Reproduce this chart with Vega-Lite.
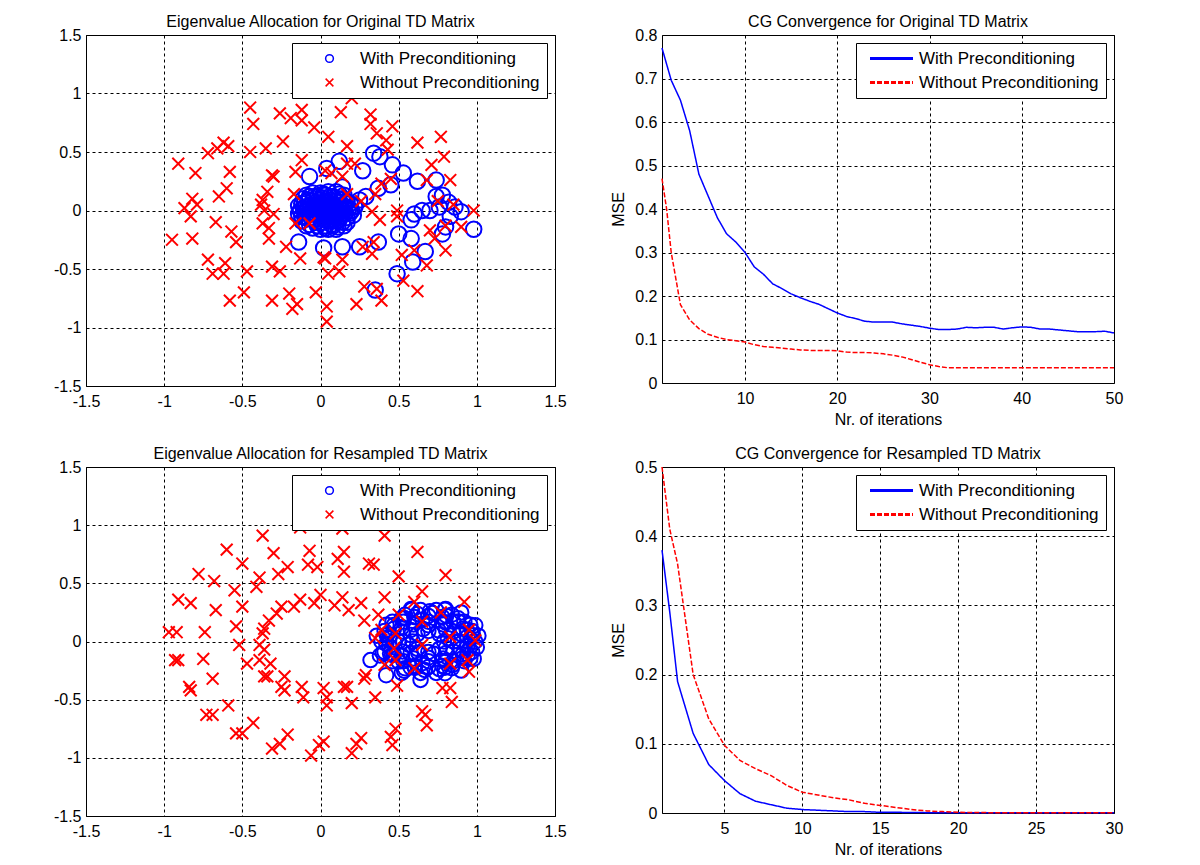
{
  "$schema": "https://vega.github.io/schema/vega-lite/v6.json",
  "background": "white",
  "padding": {"left": 52, "top": 13, "right": 5, "bottom": 5},
  "datasets": {
    "tlWith": [
      {"re":0.03,"im":0.0},{"re":0.05,"im":0.02},{"re":0.0,"im":-0.02},{"re":0.08,"im":0.0},{"re":-0.03,"im":0.01},{"re":0.02,"im":0.05},{"re":0.04,"im":-0.05},{"re":0.1,"im":0.03},{"re":0.11,"im":-0.03},{"re":-0.06,"im":-0.02},{"re":-0.08,"im":0.03},{"re":-0.1,"im":-0.01},{"re":-0.11,"im":0.02},{"re":0.14,"im":0.0},{"re":0.15,"im":0.04},{"re":0.13,"im":-0.05},{"re":0.06,"im":0.09},{"re":0.0,"im":0.09},{"re":-0.05,"im":0.08},{"re":0.09,"im":0.08},{"re":0.12,"im":0.07},{"re":0.07,"im":-0.09},{"re":0.01,"im":-0.1},{"re":-0.04,"im":-0.08},{"re":0.1,"im":-0.09},{"re":-0.08,"im":-0.07},{"re":0.03,"im":0.13},{"re":-0.02,"im":0.12},{"re":0.08,"im":0.12},{"re":0.03,"im":-0.13},{"re":0.08,"im":-0.13},{"re":-0.02,"im":-0.13},{"re":0.16,"im":-0.02},{"re":-0.12,"im":-0.05},{"re":-0.12,"im":0.06},{"re":0.14,"im":0.1},{"re":0.14,"im":-0.1},{"re":0.0,"im":0.15},{"re":0.05,"im":0.16},{"re":0.05,"im":-0.16},{"re":-0.07,"im":0.12},{"re":-0.07,"im":-0.12},{"re":0.12,"im":0.14},{"re":0.11,"im":-0.14},{"re":0.02,"im":0.02},{"re":0.06,"im":-0.02},{"re":-0.01,"im":0.04},{"re":0.04,"im":0.04},{"re":0.07,"im":0.05},{"re":0.01,"im":-0.06},{"re":-0.02,"im":-0.04},{"re":0.09,"im":-0.05},{"re":0.12,"im":0.02},{"re":-0.09,"im":0.0},{"re":0.05,"im":0.0},{"re":0.18,"im":0.02},{"re":0.17,"im":-0.06},{"re":0.19,"im":0.06},
      {"re":-0.13,"im":0.0},{"re":-0.12,"im":-0.09},{"re":-0.11,"im":0.1},{"re":-0.09,"im":0.13},{"re":-0.09,"im":-0.13},{"re":-0.05,"im":0.15},{"re":-0.05,"im":-0.15},{"re":0.0,"im":-0.16},{"re":0.1,"im":0.16},{"re":0.1,"im":-0.16},{"re":0.15,"im":0.13},{"re":0.15,"im":-0.13},{"re":0.17,"im":0.08},{"re":0.17,"im":-0.1},{"re":0.19,"im":-0.02},{"re":-0.14,"im":0.04},{"re":-0.14,"im":-0.03},{"re":-0.1,"im":0.07},{"re":-0.1,"im":-0.06},{"re":-0.06,"im":0.05},{"re":-0.06,"im":-0.06},{"re":-0.03,"im":0.07},{"re":-0.03,"im":-0.1},{"re":0.01,"im":0.11},{"re":0.02,"im":-0.08},{"re":0.04,"im":0.08},{"re":0.06,"im":0.12},{"re":0.07,"im":-0.12},{"re":0.09,"im":0.05},{"re":0.09,"im":-0.02},{"re":0.11,"im":0.1},{"re":0.12,"im":-0.08},{"re":0.13,"im":0.04},{"re":0.14,"im":-0.03},{"re":0.0,"im":0.0},{"re":0.04,"im":-0.02},{"re":-0.02,"im":0.02},{"re":0.06,"im":0.04},{"re":0.08,"im":-0.07},{"re":-0.08,"im":0.09},{"re":-0.04,"im":0.12},{"re":0.02,"im":0.14},{"re":0.03,"im":-0.15},{"re":-0.1,"im":0.03},{"re":0.16,"im":0.06},{"re":0.2,"im":0.0},{"re":0.21,"im":-0.04},{"re":0.22,"im":0.04},
      {"re":-0.14,"im":-0.27},{"re":0.02,"im":-0.32},{"re":0.14,"im":-0.31},{"re":0.25,"im":-0.31},{"re":0.37,"im":-0.27},{"re":0.35,"im":-0.68},{"re":0.49,"im":-0.54},{"re":0.59,"im":-0.44},{"re":0.67,"im":-0.35},{"re":0.5,"im":-0.2},{"re":0.58,"im":-0.24},{"re":0.58,"im":-0.08},{"re":0.6,"im":-0.03},{"re":0.65,"im":0.0},{"re":0.7,"im":0.0},{"re":0.76,"im":0.03},{"re":0.74,"im":0.12},{"re":0.78,"im":0.13},{"re":0.82,"im":0.07},{"re":0.86,"im":0.03},{"re":0.9,"im":-0.01},{"re":0.83,"im":-0.05},{"re":0.8,"im":-0.14},{"re":0.78,"im":-0.2},{"re":0.98,"im":-0.16},{"re":0.74,"im":0.26},{"re":0.62,"im":0.25},{"re":0.53,"im":0.32},{"re":0.46,"im":0.39},{"re":0.38,"im":0.46},{"re":0.34,"im":0.49},{"re":0.45,"im":0.22},{"re":0.37,"im":0.19},{"re":0.27,"im":0.34},{"re":0.12,"im":0.42},{"re":0.04,"im":0.36},{"re":-0.07,"im":0.29},{"re":0.14,"im":0.2},{"re":0.25,"im":0.09},{"re":0.22,"im":0.03},{"re":0.29,"im":0.12}
    ],
    "tlWithout": [
      {"re":-0.45,"im":0.88},{"re":-0.43,"im":0.74},{"re":-0.26,"im":0.83},{"re":-0.19,"im":0.79},{"re":-0.12,"im":0.86},{"re":-0.12,"im":0.77},{"re":-0.04,"im":0.71},{"re":0.13,"im":0.84},{"re":0.2,"im":0.96},{"re":0.32,"im":0.82},{"re":0.32,"im":0.74},{"re":0.46,"im":0.72},{"re":0.36,"im":0.66},{"re":0.42,"im":0.6},{"re":0.05,"im":0.63},{"re":0.17,"im":0.55},{"re":-0.24,"im":0.59},{"re":-0.35,"im":0.53},{"re":-0.45,"im":0.5},{"re":-0.62,"im":0.58},{"re":-0.59,"im":0.55},{"re":-0.66,"im":0.53},{"re":-0.72,"im":0.49},{"re":-0.91,"im":0.4},{"re":-0.8,"im":0.32},{"re":-0.58,"im":0.33},{"re":-0.6,"im":0.19},{"re":-0.65,"im":0.12},{"re":-0.82,"im":0.1},{"re":-0.79,"im":0.05},{"re":-0.87,"im":0.02},{"re":-0.83,"im":-0.05},{"re":-0.95,"im":-0.25},{"re":-0.82,"im":-0.24},{"re":-0.67,"im":-0.1},{"re":-0.57,"im":-0.18},{"re":-0.54,"im":-0.27},{"re":-0.72,"im":-0.42},{"re":-0.69,"im":-0.54},{"re":-0.61,"im":-0.45},{"re":-0.62,"im":-0.54},{"re":-0.58,"im":-0.77},{"re":-0.49,"im":-0.7},{"re":-0.47,"im":-0.52},{"re":-0.31,"im":-0.77},{"re":-0.31,"im":-0.48},{"re":-0.26,"im":-0.52},{"re":-0.2,"im":-0.71},{"re":-0.18,"im":-0.84},{"re":-0.15,"im":-0.8},{"re":-0.03,"im":-0.7},{"re":0.04,"im":-0.82},{"re":0.04,"im":-0.95},{"re":0.23,"im":-0.8},{"re":0.28,"im":-0.65},{"re":0.39,"im":-0.77},{"re":0.36,"im":-0.67},{"re":0.53,"im":-0.6},{"re":0.62,"im":-0.69},{"re":0.6,"im":-0.34},{"re":0.68,"im":-0.47},{"re":0.8,"im":-0.34},{"re":0.7,"im":-0.17},{"re":0.9,"im":-0.14},{"re":0.98,"im":0.0},{"re":0.62,"im":0.58},{"re":0.77,"im":0.63},{"re":0.79,"im":0.46},{"re":0.71,"im":0.39},{"re":0.83,"im":0.26},{"re":0.68,"im":0.26},{"re":0.8,"im":-0.13},{"re":0.49,"im":0.0},{"re":0.49,"im":-0.05},{"re":0.45,"im":0.27},{"re":0.39,"im":0.23},{"re":0.35,"im":0.14},{"re":0.33,"im":-0.01},{"re":0.38,"im":-0.08},{"re":0.34,"im":-0.27},{"re":0.33,"im":-0.37},{"re":0.27,"im":-0.31},{"re":0.17,"im":0.14},{"re":0.14,"im":0.29},{"re":0.17,"im":0.4},{"re":0.22,"im":0.4},{"re":0.07,"im":0.32},{"re":0.03,"im":0.34},{"re":-0.12,"im":0.43},{"re":-0.16,"im":0.33},{"re":-0.17,"im":0.14},{"re":-0.07,"im":-0.11},{"re":-0.16,"im":-0.11},{"re":-0.22,"im":-0.31},{"re":-0.13,"im":-0.41},{"re":0.02,"im":-0.4},{"re":0.03,"im":-0.41},{"re":0.05,"im":-0.54},{"re":0.12,"im":-0.52},{"re":0.14,"im":-0.42},{"re":-0.31,"im":0.3},{"re":-0.3,"im":0.29},{"re":-0.34,"im":0.16},{"re":-0.37,"im":0.09},{"re":-0.38,"im":0.05},{"re":-0.36,"im":0.0},{"re":-0.37,"im":-0.11},{"re":-0.33,"im":-0.15},{"re":-0.33,"im":-0.24},{"re":-0.3,"im":-0.03},{"re":0.75,"im":0.08},{"re":0.73,"im":-0.24},{"re":0.85,"im":0.05},{"re":0.52,"im":-0.38},{"re":0.26,"im":0.08},{"re":0.43,"im":0.52}
    ],
    "blWith": [
      {"re":0.99,"im":0.0},{"re":0.97,"im":0.09},{"re":0.92,"im":0.17},{"re":0.84,"im":0.23},{"re":0.74,"im":0.27},{"re":0.64,"im":0.27},{"re":0.54,"im":0.23},{"re":0.46,"im":0.17},{"re":0.41,"im":0.09},{"re":0.39,"im":0.0},{"re":0.41,"im":-0.09},{"re":0.46,"im":-0.17},{"re":0.54,"im":-0.23},{"re":0.64,"im":-0.27},{"re":0.74,"im":-0.27},{"re":0.84,"im":-0.23},{"re":0.92,"im":-0.17},{"re":0.97,"im":-0.09},
      {"re":0.94,"im":0.04},{"re":0.91,"im":0.11},{"re":0.85,"im":0.17},{"re":0.78,"im":0.21},{"re":0.69,"im":0.22},{"re":0.6,"im":0.21},{"re":0.53,"im":0.17},{"re":0.47,"im":0.11},{"re":0.44,"im":0.04},{"re":0.44,"im":-0.04},{"re":0.47,"im":-0.11},{"re":0.53,"im":-0.17},{"re":0.6,"im":-0.21},{"re":0.69,"im":-0.22},{"re":0.78,"im":-0.21},{"re":0.85,"im":-0.17},{"re":0.91,"im":-0.11},{"re":0.94,"im":-0.04},
      {"re":0.88,"im":0.0},{"re":0.85,"im":0.085},{"re":0.785,"im":0.147},{"re":0.69,"im":0.17},{"re":0.595,"im":0.147},{"re":0.525,"im":0.085},{"re":0.5,"im":0.0},{"re":0.525,"im":-0.085},{"re":0.595,"im":-0.147},{"re":0.69,"im":-0.17},{"re":0.785,"im":-0.147},{"re":0.85,"im":-0.085},
      {"re":0.815,"im":0.028},{"re":0.755,"im":0.095},{"re":0.656,"im":0.106},{"re":0.577,"im":0.055},{"re":0.564,"im":-0.028},{"re":0.625,"im":-0.095},{"re":0.724,"im":-0.106},{"re":0.803,"im":-0.055},
      {"re":0.976,"im":0.053},{"re":0.88,"im":0.2},{"re":0.7,"im":0.26},{"re":0.52,"im":0.2},{"re":0.424,"im":0.053},{"re":0.458,"im":-0.115},{"re":0.604,"im":-0.225},{"re":0.796,"im":-0.225},{"re":0.942,"im":-0.115},
      {"re":0.959,"im":0.021},{"re":0.935,"im":0.104},{"re":0.881,"im":0.173},{"re":0.804,"im":0.222},{"re":0.714,"im":0.244},{"re":0.62,"im":0.237},{"re":0.535,"im":0.201},{"re":0.469,"im":0.141},{"re":0.429,"im":0.063},{"re":0.421,"im":-0.021},{"re":0.445,"im":-0.104},{"re":0.499,"im":-0.173},{"re":0.576,"im":-0.222},{"re":0.666,"im":-0.244},{"re":0.76,"im":-0.237},{"re":0.845,"im":-0.201},{"re":0.911,"im":-0.141},{"re":0.951,"im":-0.063},
      {"re":0.897,"im":0.065},{"re":0.8,"im":0.165},{"re":0.652,"im":0.187},{"re":0.521,"im":0.122},{"re":0.47,"im":0.0},{"re":0.521,"im":-0.122},{"re":0.652,"im":-0.187},{"re":0.8,"im":-0.165},{"re":0.897,"im":-0.065},
      {"re":0.803,"im":0.099},{"re":0.577,"im":0.099},{"re":0.577,"im":-0.099},{"re":0.803,"im":-0.099},{"re":0.85,"im":0.0},{"re":0.53,"im":0.0},{"re":0.69,"im":0.14},{"re":0.69,"im":-0.14},
      {"re":0.79,"im":0.0},{"re":0.59,"im":0.0},{"re":0.69,"im":0.09},{"re":0.69,"im":-0.09},{"re":0.76,"im":0.064},{"re":0.62,"im":0.064},{"re":0.62,"im":-0.064},{"re":0.76,"im":-0.064},
      {"re":0.958,"im":0.145},{"re":0.796,"im":0.273},{"re":0.584,"im":0.273},{"re":0.422,"im":0.145},{"re":0.399,"im":-0.099},{"re":0.535,"im":-0.251},{"re":0.796,"im":-0.273},{"re":0.958,"im":-0.145},
      {"re":0.32,"im":-0.16},{"re":0.42,"im":-0.29},{"re":0.64,"im":-0.33},{"re":0.36,"im":0.05},{"re":0.38,"im":-0.12},{"re":1.01,"im":0.05},{"re":1.0,"im":-0.05},{"re":0.9,"im":0.25},{"re":0.8,"im":0.28},{"re":0.58,"im":0.28},{"re":0.9,"im":-0.25},{"re":0.52,"im":-0.27},{"re":0.99,"im":0.14},{"re":0.98,"im":-0.15}
    ],
    "blWithout": [
      {"re":-0.37,"im":0.91},{"re":-0.6,"im":0.79},{"re":-0.3,"im":0.76},{"re":-0.5,"im":0.67},{"re":-0.78,"im":0.58},{"re":-0.68,"im":0.52},{"re":-0.39,"im":0.55},{"re":-0.41,"im":0.47},{"re":-0.27,"im":0.58},{"re":-0.21,"im":0.64},{"re":-0.07,"im":0.78},{"re":-0.08,"im":0.66},{"re":-0.02,"im":0.64},{"re":-0.13,"im":0.98},{"re":0.11,"im":0.71},{"re":0.15,"im":0.77},{"re":0.15,"im":0.6},{"re":0.14,"im":0.97},{"re":0.31,"im":0.67},{"re":0.34,"im":0.66},{"re":0.41,"im":0.91},{"re":0.5,"im":0.56},{"re":0.62,"im":0.77},{"re":0.8,"im":0.57},{"re":0.92,"im":0.34},{"re":0.65,"im":0.43},{"re":0.6,"im":0.34},{"re":0.77,"im":0.25},{"re":0.65,"im":0.17},{"re":0.95,"im":0.1},{"re":0.99,"im":0.01},{"re":0.83,"im":0.04},{"re":0.65,"im":-0.03},{"re":0.83,"im":-0.19},{"re":0.94,"im":-0.16},{"re":0.95,"im":-0.26},{"re":0.78,"im":-0.4},{"re":0.83,"im":-0.4},{"re":0.84,"im":-0.52},{"re":0.65,"im":-0.6},{"re":0.67,"im":-0.63},{"re":0.68,"im":-0.72},{"re":0.48,"im":-0.75},{"re":0.45,"im":-0.82},{"re":0.46,"im":-0.89},{"re":0.49,"im":-0.38},{"re":0.6,"im":-0.23},{"re":0.41,"im":-0.2},{"re":0.48,"im":-0.16},{"re":0.47,"im":-0.06},{"re":0.48,"im":0.07},{"re":0.5,"im":0.23},{"re":0.39,"im":0.1},{"re":0.35,"im":0.03},{"re":0.41,"im":0.38},{"re":0.37,"im":0.23},{"re":0.28,"im":0.18},{"re":0.26,"im":0.33},{"re":0.18,"im":0.27},{"re":0.14,"im":0.38},{"re":0.09,"im":0.31},{"re":0.0,"im":0.4},{"re":-0.04,"im":0.33},{"re":-0.13,"im":0.36},{"re":-0.17,"im":0.3},{"re":-0.25,"im":0.3},{"re":-0.28,"im":0.24},{"re":-0.33,"im":0.18},{"re":-0.36,"im":0.11},{"re":-0.37,"im":0.07},{"re":-0.39,"im":-0.03},{"re":-0.36,"im":-0.07},{"re":-0.39,"im":-0.16},{"re":-0.32,"im":-0.19},{"re":-0.36,"im":-0.3},{"re":-0.34,"im":-0.3},{"re":-0.47,"im":-0.19},{"re":-0.52,"im":-0.03},{"re":-0.54,"im":0.13},{"re":-0.5,"im":0.3},{"re":-0.55,"im":0.44},{"re":-0.23,"im":-0.3},{"re":-0.25,"im":-0.39},{"re":-0.23,"im":-0.42},{"re":-0.12,"im":-0.39},{"re":-0.11,"im":-0.48},{"re":0.02,"im":-0.4},{"re":0.04,"im":-0.48},{"re":0.04,"im":-0.55},{"re":0.15,"im":-0.39},{"re":0.17,"im":-0.39},{"re":0.2,"im":-0.53},{"re":0.28,"im":-0.32},{"re":0.29,"im":-0.29},{"re":0.35,"im":-0.48},{"re":-0.59,"im":-0.55},{"re":-0.69,"im":-0.32},{"re":-0.75,"im":-0.15},{"re":-0.74,"im":0.08},{"re":-0.67,"im":0.27},{"re":-0.83,"im":0.33},{"re":-0.91,"im":0.36},{"re":-0.92,"im":0.08},{"re":-0.97,"im":0.08},{"re":-0.93,"im":-0.16},{"re":-0.91,"im":-0.16},{"re":-0.84,"im":-0.39},{"re":-0.83,"im":-0.42},{"re":-0.73,"im":-0.63},{"re":-0.69,"im":-0.63},{"re":-0.54,"im":-0.79},{"re":-0.5,"im":-0.79},{"re":-0.43,"im":-0.7},{"re":-0.31,"im":-0.92},{"re":-0.26,"im":-0.88},{"re":-0.21,"im":-0.8},{"re":-0.06,"im":-0.98},{"re":-0.01,"im":-0.89},{"re":0.02,"im":-0.86},{"re":0.2,"im":-0.96},{"re":0.23,"im":-0.88},{"re":0.26,"im":-0.83}
    ],
    "trWith": [
      {"iter":1,"mse":0.77},{"iter":2,"mse":0.696},{"iter":3,"mse":0.65},{"iter":4,"mse":0.58},{"iter":5,"mse":0.48},{"iter":6,"mse":0.43},{"iter":7,"mse":0.38},{"iter":8,"mse":0.343},{"iter":9,"mse":0.324},{"iter":10,"mse":0.3},{"iter":11,"mse":0.267},{"iter":12,"mse":0.25},{"iter":13,"mse":0.228},{"iter":14,"mse":0.217},{"iter":15,"mse":0.205},{"iter":16,"mse":0.196},{"iter":17,"mse":0.188},{"iter":18,"mse":0.181},{"iter":19,"mse":0.171},{"iter":20,"mse":0.161},{"iter":21,"mse":0.153},{"iter":22,"mse":0.148},{"iter":23,"mse":0.142},{"iter":24,"mse":0.14},{"iter":25,"mse":0.14},{"iter":26,"mse":0.14},{"iter":27,"mse":0.136},{"iter":28,"mse":0.133},{"iter":29,"mse":0.13},{"iter":30,"mse":0.126},{"iter":31,"mse":0.123},{"iter":32,"mse":0.123},{"iter":33,"mse":0.124},{"iter":34,"mse":0.128},{"iter":35,"mse":0.127},{"iter":36,"mse":0.128},{"iter":37,"mse":0.128},{"iter":38,"mse":0.124},{"iter":39,"mse":0.127},{"iter":40,"mse":0.129},{"iter":41,"mse":0.128},{"iter":42,"mse":0.124},{"iter":43,"mse":0.124},{"iter":44,"mse":0.122},{"iter":45,"mse":0.12},{"iter":46,"mse":0.118},{"iter":47,"mse":0.118},{"iter":48,"mse":0.118},{"iter":49,"mse":0.119},{"iter":50,"mse":0.115}
    ],
    "trWithout": [
      {"iter":1,"mse":0.47},{"iter":1.5,"mse":0.4},{"iter":2,"mse":0.3},{"iter":3,"mse":0.18},{"iter":4,"mse":0.145},{"iter":5,"mse":0.125},{"iter":6,"mse":0.112},{"iter":7,"mse":0.105},{"iter":8,"mse":0.1},{"iter":9,"mse":0.097},{"iter":10,"mse":0.094},{"iter":11,"mse":0.088},{"iter":12,"mse":0.084},{"iter":13,"mse":0.082},{"iter":14,"mse":0.08},{"iter":15,"mse":0.078},{"iter":16,"mse":0.076},{"iter":17,"mse":0.075},{"iter":18,"mse":0.075},{"iter":19,"mse":0.075},{"iter":20,"mse":0.074},{"iter":21,"mse":0.071},{"iter":22,"mse":0.07},{"iter":23,"mse":0.07},{"iter":24,"mse":0.069},{"iter":25,"mse":0.067},{"iter":26,"mse":0.064},{"iter":27,"mse":0.06},{"iter":28,"mse":0.054},{"iter":29,"mse":0.048},{"iter":30,"mse":0.042},{"iter":31,"mse":0.038},{"iter":32,"mse":0.035},{"iter":34,"mse":0.035},{"iter":36,"mse":0.035},{"iter":38,"mse":0.035},{"iter":40,"mse":0.035},{"iter":42,"mse":0.035},{"iter":44,"mse":0.035},{"iter":46,"mse":0.035},{"iter":48,"mse":0.035},{"iter":50,"mse":0.035}
    ],
    "brWith": [
      {"iter":1,"mse":0.38},{"iter":1.5,"mse":0.29},{"iter":2,"mse":0.19},{"iter":3,"mse":0.115},{"iter":4,"mse":0.07},{"iter":5,"mse":0.047},{"iter":6,"mse":0.028},{"iter":7,"mse":0.017},{"iter":8,"mse":0.012},{"iter":9,"mse":0.007},{"iter":10,"mse":0.005},{"iter":11,"mse":0.004},{"iter":12,"mse":0.003},{"iter":13,"mse":0.002},{"iter":14,"mse":0.002},{"iter":15,"mse":0.001},{"iter":16,"mse":0.001},{"iter":18,"mse":0.0005},{"iter":20,"mse":0.0005},{"iter":22,"mse":0.0005},{"iter":24,"mse":0.0005},{"iter":26,"mse":0.0005},{"iter":28,"mse":0.0005},{"iter":30,"mse":0.0005}
    ],
    "brWithout": [
      {"iter":1,"mse":0.5},{"iter":1.5,"mse":0.41},{"iter":2,"mse":0.36},{"iter":3,"mse":0.2},{"iter":4,"mse":0.136},{"iter":5,"mse":0.098},{"iter":6,"mse":0.076},{"iter":7,"mse":0.064},{"iter":8,"mse":0.054},{"iter":9,"mse":0.04},{"iter":10,"mse":0.03},{"iter":11,"mse":0.026},{"iter":12,"mse":0.022},{"iter":13,"mse":0.019},{"iter":14,"mse":0.014},{"iter":15,"mse":0.011},{"iter":16,"mse":0.008},{"iter":17,"mse":0.005},{"iter":18,"mse":0.003},{"iter":19,"mse":0.002},{"iter":20,"mse":0.001},{"iter":22,"mse":0.0005},{"iter":24,"mse":0.0005},{"iter":26,"mse":0.0005},{"iter":28,"mse":0.0005},{"iter":30,"mse":0.0005}
    ]
  },
  "concat": [
    {
      "title": "Eigenvalue Allocation for Original TD Matrix",
      "width": 469, "height": 351,
      "layer": [
        {
          "data": {"name": "tlWith"},
          "mark": {"type": "point", "filled": false, "size": 240, "strokeWidth": 2, "opacity": 1},
          "encoding": {
            "x": {"field": "re", "type": "quantitative", "scale": {"domain": [-1.5, 1.5], "nice": false}, "axis": {"values": [-1.5, -1, -0.5, 0, 0.5, 1, 1.5], "format": "~g", "title": null}},
            "y": {"field": "im", "type": "quantitative", "scale": {"domain": [-1.5, 1.5], "nice": false}, "axis": {"values": [-1.5, -1, -0.5, 0, 0.5, 1, 1.5], "format": "~g", "title": null}},
            "color": {"datum": "With Preconditioning", "type": "nominal", "scale": {"domain": ["With Preconditioning", "Without Preconditioning"], "range": ["#0000ff", "#ff0000"]}, "legend": {"title": null, "symbolSize": 60, "symbolOffset": 22, "labelOffset": 22, "symbolStrokeWidth": 1.5}},
            "shape": {"datum": "With Preconditioning", "type": "nominal", "scale": {"domain": ["With Preconditioning", "Without Preconditioning"], "range": ["circle", "M-1,-1L1,1M-1,1L1,-1"]}, "legend": {"title": null, "symbolSize": 60, "symbolOffset": 22, "labelOffset": 22, "symbolStrokeWidth": 1.5}}
          }
        },
        {
          "data": {"name": "tlWithout"},
          "mark": {"type": "point", "filled": false, "size": 140, "strokeWidth": 2, "opacity": 1},
          "encoding": {
            "x": {"field": "re", "type": "quantitative"},
            "y": {"field": "im", "type": "quantitative"},
            "color": {"datum": "Without Preconditioning", "type": "nominal"},
            "shape": {"datum": "Without Preconditioning", "type": "nominal"}
          }
        }
      ]
    },
    {
      "title": "CG Convergence for Original TD Matrix",
      "width": 452, "height": 348,
      "layer": [
        {
          "data": {"name": "trWith"},
          "mark": {"type": "line", "strokeWidth": 1.5},
          "encoding": {
            "x": {"field": "iter", "type": "quantitative", "scale": {"domain": [1, 50], "nice": false}, "axis": {"values": [10, 20, 30, 40, 50], "format": "~g", "title": "Nr. of iterations"}},
            "y": {"field": "mse", "type": "quantitative", "scale": {"domain": [0, 0.8], "nice": false}, "axis": {"values": [0, 0.1, 0.2, 0.3, 0.4, 0.5, 0.6, 0.7, 0.8], "format": "~g", "title": "MSE"}},
            "color": {"datum": "With Preconditioning", "type": "nominal", "scale": {"domain": ["With Preconditioning", "Without Preconditioning"], "range": ["#0000ff", "#ff0000"]}, "legend": {"title": null, "symbolType": "M-5,0L5,0", "symbolSize": 74, "symbolOffset": 20, "labelOffset": 19, "symbolStrokeWidth": 3}},
            "strokeDash": {"datum": "With Preconditioning", "type": "nominal", "scale": {"domain": ["With Preconditioning", "Without Preconditioning"], "range": [[1, 0], [5, 2]]}, "legend": {"title": null, "symbolType": "M-5,0L5,0", "symbolSize": 74, "symbolOffset": 20, "labelOffset": 19, "symbolStrokeWidth": 3}}
          }
        },
        {
          "data": {"name": "trWithout"},
          "mark": {"type": "line", "strokeWidth": 1.5},
          "encoding": {
            "x": {"field": "iter", "type": "quantitative"},
            "y": {"field": "mse", "type": "quantitative"},
            "color": {"datum": "Without Preconditioning", "type": "nominal"},
            "strokeDash": {"datum": "Without Preconditioning", "type": "nominal"}
          }
        }
      ]
    },
    {
      "title": "Eigenvalue Allocation for Resampled TD Matrix",
      "width": 469, "height": 349,
      "layer": [
        {
          "data": {"name": "blWith"},
          "mark": {"type": "point", "filled": false, "size": 210, "strokeWidth": 2, "opacity": 1},
          "encoding": {
            "x": {"field": "re", "type": "quantitative", "scale": {"domain": [-1.5, 1.5], "nice": false}, "axis": {"values": [-1.5, -1, -0.5, 0, 0.5, 1, 1.5], "format": "~g", "title": null}},
            "y": {"field": "im", "type": "quantitative", "scale": {"domain": [-1.5, 1.5], "nice": false}, "axis": {"values": [-1.5, -1, -0.5, 0, 0.5, 1, 1.5], "format": "~g", "title": null}},
            "color": {"datum": "With Preconditioning", "type": "nominal", "scale": {"domain": ["With Preconditioning", "Without Preconditioning"], "range": ["#0000ff", "#ff0000"]}, "legend": {"title": null, "symbolSize": 60, "symbolOffset": 22, "labelOffset": 22, "symbolStrokeWidth": 1.5}},
            "shape": {"datum": "With Preconditioning", "type": "nominal", "scale": {"domain": ["With Preconditioning", "Without Preconditioning"], "range": ["circle", "M-1,-1L1,1M-1,1L1,-1"]}, "legend": {"title": null, "symbolSize": 60, "symbolOffset": 22, "labelOffset": 22, "symbolStrokeWidth": 1.5}}
          }
        },
        {
          "data": {"name": "blWithout"},
          "mark": {"type": "point", "filled": false, "size": 140, "strokeWidth": 2, "opacity": 1},
          "encoding": {
            "x": {"field": "re", "type": "quantitative"},
            "y": {"field": "im", "type": "quantitative"},
            "color": {"datum": "Without Preconditioning", "type": "nominal"},
            "shape": {"datum": "Without Preconditioning", "type": "nominal"}
          }
        }
      ]
    },
    {
      "title": "CG Convergence for Resampled TD Matrix",
      "width": 452, "height": 346,
      "layer": [
        {
          "data": {"name": "brWith"},
          "mark": {"type": "line", "strokeWidth": 1.5},
          "encoding": {
            "x": {"field": "iter", "type": "quantitative", "scale": {"domain": [1, 30], "nice": false}, "axis": {"values": [5, 10, 15, 20, 25, 30], "format": "~g", "title": "Nr. of iterations"}},
            "y": {"field": "mse", "type": "quantitative", "scale": {"domain": [0, 0.5], "nice": false}, "axis": {"values": [0, 0.1, 0.2, 0.3, 0.4, 0.5], "format": "~g", "title": "MSE"}},
            "color": {"datum": "With Preconditioning", "type": "nominal", "scale": {"domain": ["With Preconditioning", "Without Preconditioning"], "range": ["#0000ff", "#ff0000"]}, "legend": {"title": null, "symbolType": "M-5,0L5,0", "symbolSize": 74, "symbolOffset": 20, "labelOffset": 19, "symbolStrokeWidth": 3}},
            "strokeDash": {"datum": "With Preconditioning", "type": "nominal", "scale": {"domain": ["With Preconditioning", "Without Preconditioning"], "range": [[1, 0], [5, 2]]}, "legend": {"title": null, "symbolType": "M-5,0L5,0", "symbolSize": 74, "symbolOffset": 20, "labelOffset": 19, "symbolStrokeWidth": 3}}
          }
        },
        {
          "data": {"name": "brWithout"},
          "mark": {"type": "line", "strokeWidth": 1.5},
          "encoding": {
            "x": {"field": "iter", "type": "quantitative"},
            "y": {"field": "mse", "type": "quantitative"},
            "color": {"datum": "Without Preconditioning", "type": "nominal"},
            "strokeDash": {"datum": "Without Preconditioning", "type": "nominal"}
          }
        }
      ]
    }
  ],
  "columns": 2,
  "spacing": {"row": 81, "column": 107},
  "bounds": "flush",
  "resolve": {
    "scale": {"color": "independent", "shape": "independent", "strokeDash": "independent"},
    "legend": {"color": "independent", "shape": "independent", "strokeDash": "independent"}
  },
  "config": {
    "font": "Liberation Sans",
    "view": {"stroke": "black", "strokeWidth": 1},
    "axis": {
      "grid": true, "gridColor": "black", "gridDash": [3, 3], "gridOpacity": 1, "gridWidth": 1,
      "domain": false, "ticks": false,
      "labelFont": "Liberation Sans", "labelFontSize": 16, "labelColor": "black", "labelFlush": false, "labelOverlap": false,
      "titleFont": "Liberation Sans", "titleFontSize": 16, "titleFontWeight": "normal", "titleColor": "black"
    },
    "axisX": {"labelPadding": 7, "titlePadding": 5},
    "axisY": {"labelPadding": 5, "titlePadding": 8},
    "title": {"font": "Liberation Sans", "fontSize": 16, "fontWeight": "normal", "color": "black", "offset": -3},
    "legend": {
      "orient": "top-right", "offset": 8, "fillColor": "white", "strokeColor": "black", "padding": 7, "cornerRadius": 0,
      "labelFont": "Liberation Sans", "labelFontSize": 17, "labelColor": "black", "rowPadding": 6, "labelLimit": 400
    },
    "locale": {"number": {"decimal": ".", "thousands": ",", "grouping": [3], "currency": ["$", ""], "minus": "-"}}
  }
}
